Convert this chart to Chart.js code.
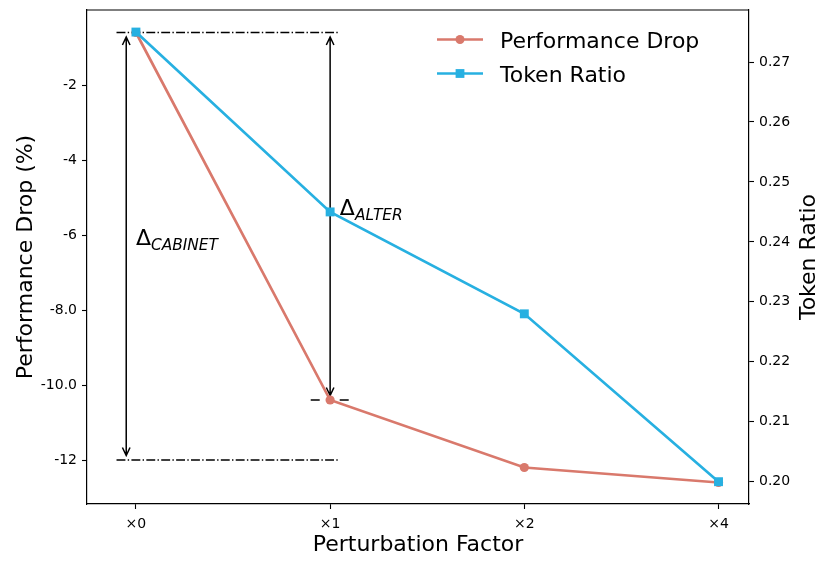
<!DOCTYPE html>
<html><head><meta charset="utf-8">
<script src="https://cdn.jsdelivr.net/npm/chart.js@4.4.0/dist/chart.umd.min.js"></script>
<style>html,body{margin:0;padding:0;background:#fff;}canvas{display:block;}</style>
</head><body>
<canvas id="c" width="830" height="567"></canvas>
<script>
// ---- data ----
const categories = ['×0', '×1', '×2', '×4'];
const categoryPos = [0, 1, 2, 3];
const performanceDrop = [-0.6, -10.4, -12.2, -12.6];
const tokenRatio = [0.275, 0.245, 0.228, 0.200];
const leftTicks = [-2, -4, -6, -8, -10, -12];
const leftTickLabels = ['-2', '-4', '-6', '-8.0', '-10.0', '-12'];
const rightTicks = [0.20, 0.21, 0.22, 0.23, 0.24, 0.25, 0.26, 0.27];
const rightTickLabels = ['0.20', '0.21', '0.22', '0.23', '0.24', '0.25', '0.26', '0.27'];
const refLineY = [-0.6, -12, -10.4];
const refLineX0 = [-0.1, -0.1, 0.9];
const refLineX1 = [1.05, 1.05, 1.1];
const refLineKind = ['dashdot', 'dashdot', 'dash'];
const arrowX = [-0.05, 1];
const arrowY0 = [-0.6, -0.6];
const arrowY1 = [-12, -10.4];
const deltaSubs = ['CABINET', 'ALTER'];
const deltaX = [0.0, 1.05];
const deltaY = [-6.27, -5.47];
const seriesNames = ['Performance Drop', 'Token Ratio'];
const axisTitles = { x: 'Perturbation Factor', y: 'Performance Drop (%)', y1: 'Token Ratio' };

const RED = '#d9796c';
const BLUE = '#27b0e1';
const FONT = '"DejaVu Sans", sans-serif';

const overlay = {
  id: 'overlay',
  beforeDatasetsDraw(chart) {
    const { ctx, scales: { x, y } } = chart;
    ctx.save();
    ctx.strokeStyle = '#000';
    refLineY.forEach((v, i) => {
      ctx.beginPath();
      ctx.lineWidth = refLineKind[i] === 'dashdot' ? 1.3 : 1.5;
      ctx.setLineDash(refLineKind[i] === 'dashdot' ? [8.9, 2.3, 1.4, 2.3] : [9, 20]);
      const py = y.getPixelForValue(v);
      ctx.moveTo(x.getPixelForValue(refLineX0[i]), py);
      ctx.lineTo(x.getPixelForValue(refLineX1[i]), py);
      ctx.stroke();
    });
    ctx.setLineDash([]);
    ctx.lineWidth = 1.5;
    const shrink = 4.5, hl = 8, hw = 3.8;
    arrowX.forEach((v, i) => {
      const px = x.getPixelForValue(v);
      const pa = y.getPixelForValue(arrowY0[i]) + shrink;
      const pb = y.getPixelForValue(arrowY1[i]) - shrink;
      ctx.beginPath();
      ctx.moveTo(px, pa); ctx.lineTo(px, pb);
      ctx.moveTo(px - hw, pa + hl); ctx.lineTo(px, pa); ctx.lineTo(px + hw, pa + hl);
      ctx.moveTo(px - hw, pb - hl); ctx.lineTo(px, pb); ctx.lineTo(px + hw, pb - hl);
      ctx.stroke();
    });
    ctx.restore();
  },
  afterDraw(chart) {
    const { ctx, chartArea: a, scales: { x, y } } = chart;
    ctx.save();
    // top frame line
    ctx.strokeStyle = '#000';
    ctx.lineWidth = 1.2;
    ctx.beginPath();
    ctx.moveTo(a.left, a.top); ctx.lineTo(a.right, a.top);
    ctx.stroke();
    // delta labels
    ctx.fillStyle = '#000';
    ctx.textBaseline = 'alphabetic';
    ctx.textAlign = 'left';
    deltaSubs.forEach((s, i) => {
      const px = x.getPixelForValue(deltaX[i]);
      const py = y.getPixelForValue(deltaY[i]);
      ctx.font = '22px ' + FONT;
      ctx.fillText('Δ', px, py);
      const w = ctx.measureText('Δ').width;
      ctx.font = 'italic 15.4px ' + FONT;
      ctx.fillText(s, px + w, py + 5);
    });
    // legend
    const items = [
      { name: seriesNames[0], color: RED, style: 'circle' },
      { name: seriesNames[1], color: BLUE, style: 'rect' }
    ];
    const hx0 = a.right - 312, hx1 = a.right - 266;
    items.forEach((it, i) => {
      const ly = a.top + 29.5 + i * 34;
      ctx.strokeStyle = it.color;
      ctx.fillStyle = it.color;
      ctx.lineWidth = 2.7;
      ctx.beginPath(); ctx.moveTo(hx0, ly); ctx.lineTo(hx1, ly); ctx.stroke();
      const cx = (hx0 + hx1) / 2;
      if (it.style === 'circle') { ctx.beginPath(); ctx.arc(cx, ly, 4.5, 0, Math.PI * 2); ctx.fill(); }
      else { ctx.fillRect(cx - 4.4, ly - 4.4, 8.8, 8.8); }
      ctx.fillStyle = '#000';
      ctx.font = '22px ' + FONT;
      ctx.fillText(it.name, a.right - 249, ly + 8.7);
    });
    // axis titles
    ctx.fillStyle = '#000';
    ctx.font = '22px ' + FONT;
    ctx.textAlign = 'center';
    ctx.textBaseline = 'alphabetic';
    const cy = (a.top + a.bottom) / 2;
    ctx.save(); ctx.translate(32, cy); ctx.rotate(-Math.PI / 2); ctx.fillText(axisTitles.y, 0, 0); ctx.restore();
    ctx.save(); ctx.translate(815, cy); ctx.rotate(-Math.PI / 2); ctx.fillText(axisTitles.y1, 0, 0); ctx.restore();
    ctx.fillText(axisTitles.x, (a.left + a.right) / 2, 551);
    ctx.restore();
  }
};

const tickFont = { family: FONT, size: 14 };
const noPadV = s => { s.paddingTop = 0; s.paddingBottom = 0; };
const noPadH = s => { s.paddingLeft = 0; s.paddingRight = 0; };
new Chart(document.getElementById('c'), {
  type: 'line',
  data: {
    datasets: [
      {
        label: seriesNames[0], yAxisID: 'y', order: 1,
        data: categoryPos.map((p, i) => ({ x: p, y: performanceDrop[i] })),
        borderColor: RED, backgroundColor: RED, borderWidth: 2.7,
        pointStyle: 'circle', pointRadius: 4.6, pointHoverRadius: 4.6, pointBorderWidth: 0
      },
      {
        label: seriesNames[1], yAxisID: 'y1', order: 0,
        data: categoryPos.map((p, i) => ({ x: p, y: tokenRatio[i] })),
        borderColor: BLUE, backgroundColor: BLUE, borderWidth: 2.7,
        pointStyle: 'rect', pointRadius: 6.3, pointHoverRadius: 6.3, pointBorderWidth: 0
      }
    ]
  },
  options: {
    responsive: false,
    animation: false,
    devicePixelRatio: 1,
    layout: { padding: { top: 10, left: 0, right: 0, bottom: 0 } },
    plugins: { legend: { display: false }, tooltip: { enabled: false } },
    scales: {
      x: {
        type: 'linear', min: -0.252, max: 3.157,
        afterBuildTicks: s => { s.ticks = categoryPos.map(v => ({ value: v })); },
        afterFit: s => { s.height = 63; noPadH(s); },
        ticks: { color: '#000', font: tickFont, padding: 7, maxRotation: 0,
          callback: v => categories[categoryPos.indexOf(v)] },
        grid: { drawOnChartArea: false, drawTicks: true, tickLength: 5, tickColor: '#000', tickWidth: 1.1 },
        border: { display: true, color: '#000', width: 1.2 }
      },
      y: {
        type: 'linear', position: 'left', min: -13.173, max: 0.0,
        afterBuildTicks: s => { s.ticks = leftTicks.map(v => ({ value: v })); },
        afterFit: s => { s.width = 87; noPadV(s); },
        ticks: { color: '#000', font: tickFont, padding: 5,
          callback: v => leftTickLabels[leftTicks.indexOf(v)] },
        grid: { drawOnChartArea: false, drawTicks: true, tickLength: 5, tickColor: '#000', tickWidth: 1.1 },
        border: { display: true, color: '#000', width: 1.2 }
      },
      y1: {
        type: 'linear', position: 'right', min: 0.19628, max: 0.27868,
        afterBuildTicks: s => { s.ticks = rightTicks.map(v => ({ value: v })); },
        afterFit: s => { s.width = 81; noPadV(s); },
        ticks: { color: '#000', font: tickFont, padding: 5,
          callback: (v, i) => rightTickLabels[i] },
        grid: { drawOnChartArea: false, drawTicks: true, tickLength: 5, tickColor: '#000', tickWidth: 1.1 },
        border: { display: true, color: '#000', width: 1.2 }
      }
    }
  },
  plugins: [overlay]
});
</script>
</body></html>
